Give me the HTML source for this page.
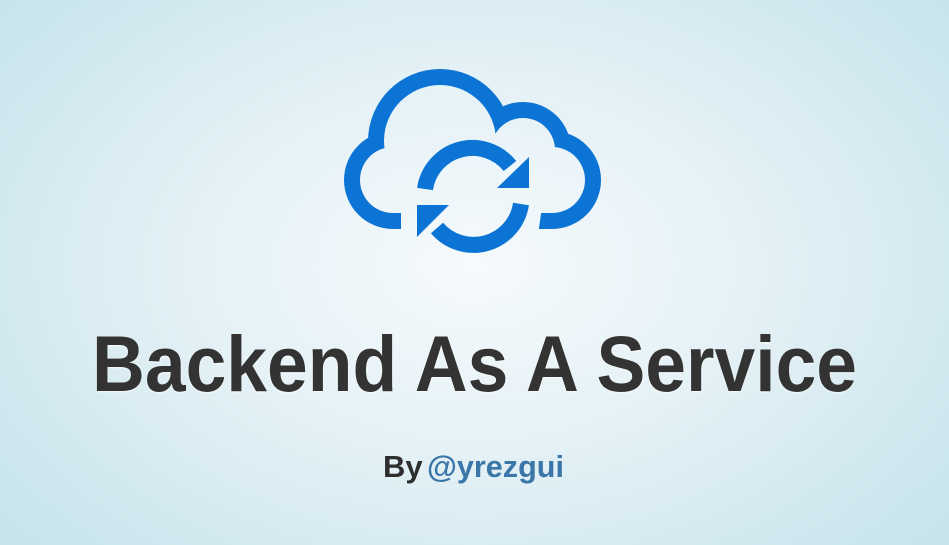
<!DOCTYPE html>
<html><head><meta charset="utf-8"><style>
html,body{margin:0;padding:0;}
body{width:949px;height:545px;overflow:hidden;background:radial-gradient(ellipse 620px 420px at 475px 265px,#f6fafc 0%,#e4f1f6 45%,#c6e3eb 100%);}
svg{display:block;}
</style></head><body>
<svg width="949" height="545" viewBox="0 0 949 545" xmlns="http://www.w3.org/2000/svg">
<defs>
<mask id="m" maskUnits="userSpaceOnUse" x="0" y="0" width="949" height="545">
<g fill="#fff">
<circle cx="440" cy="141" r="72"/>
<circle cx="523" cy="150" r="48"/>
<circle cx="393" cy="180" r="49"/>
<circle cx="552" cy="180" r="49"/>
<rect x="393" y="131" width="159" height="98"/>
</g>
<g fill="#000">
<circle cx="440" cy="141" r="56"/>
<circle cx="523" cy="150" r="32"/>
<circle cx="393" cy="180" r="33"/>
<circle cx="552" cy="180" r="33"/>
<rect x="393" y="147" width="159" height="66"/>
<polygon points="401,200 543,200 538,235 401,235"/>
</g>
</mask>
</defs>
<rect x="330" y="60" width="290" height="180" fill="#0b74d4" mask="url(#m)"/>
<g fill="none" stroke="#0b74d4" stroke-width="16">
<path d="M425 189 A48 48 0 0 1 510 166"/>
<path d="M521 204 A48 48 0 0 1 437 228"/>
</g>
<g fill="#0b74d4">
<polygon points="529,157 529,188 497,188"/>
<polygon points="417,205 449,205 417,237"/>
</g>
<text x="92" y="391" textLength="765" lengthAdjust="spacingAndGlyphs" font-family="Liberation Sans, sans-serif" font-weight="bold" font-size="79" fill="#333" style="text-shadow:0 1px 2px rgba(255,255,255,.8)">Backend As A Service</text>
<text x="383" y="477" font-family="Liberation Sans, sans-serif" font-weight="bold" font-size="31" fill="#2e2e2e">By</text>
<text x="427" y="477" textLength="137" lengthAdjust="spacingAndGlyphs" font-family="Liberation Sans, sans-serif" font-weight="bold" font-size="31" fill="#3a76a8">@yrezgui</text>
</svg>
</body></html>
